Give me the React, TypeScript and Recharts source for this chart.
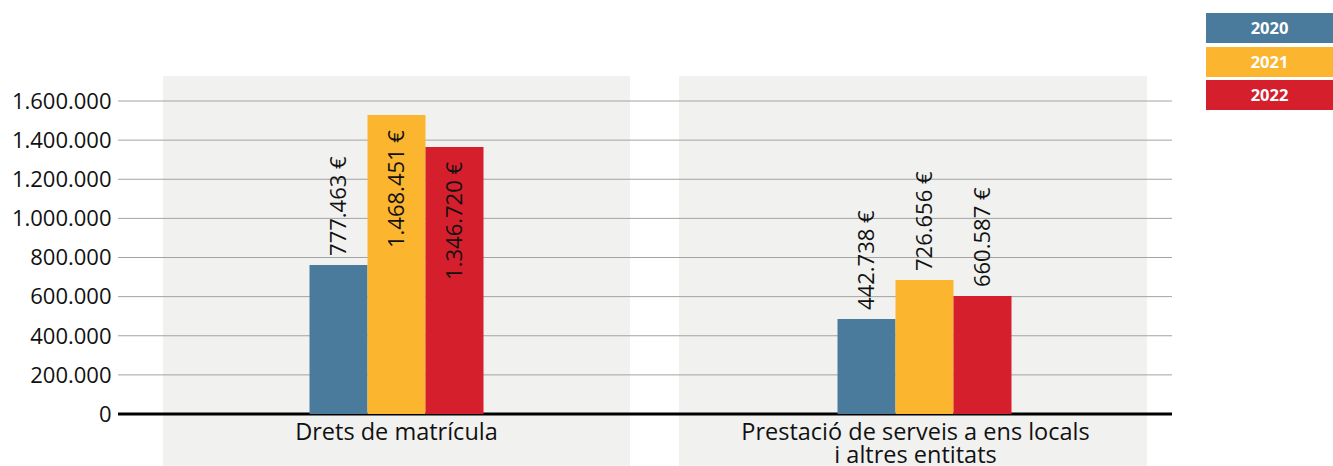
import { Bar, BarChart, CartesianGrid, LabelList, XAxis, YAxis } from 'recharts'

const categories = ['Drets de matrícula', 'Prestació de serveis a ens locals\ni altres entitats']
const years = ['2020', '2021', '2022']
const values2020 = [762000, 486000]
const values2021 = [1528000, 685000]
const values2022 = [1365000, 603000]
const labels2020 = ['777.463 €', '442.738 €']
const labels2021 = ['1.468.451 €', '726.656 €']
const labels2022 = ['1.346.720 €', '660.587 €']
const yTicks = [0, 200000, 400000, 600000, 800000, 1000000, 1200000, 1400000, 1600000]

const colors = ['#4a7b9c', '#fbb52f', '#d61f2c']
const font = '"Open Sans", "Noto Sans", sans-serif'

const chartData = categories.map((name, i) => ({
  name,
  v2020: values2020[i],
  v2021: values2021[i],
  v2022: values2022[i],
  l2020: labels2020[i],
  l2021: labels2021[i],
  l2022: labels2022[i],
}))

const fmt = (v: number) => v.toLocaleString('de-DE')

// big bars get the label inside, the rest above
function BarLabel(props: any) {
  const { x, y, width, value, index, dataKey } = props
  const raw = chartData[index]?.[dataKey.replace('l', 'v') as 'v2020'] ?? 0
  const cx = x + width / 2 + 8
  const inside = raw > 1000000
  const ty = inside ? y + 15 : y - 9
  return (
    <text
      x={cx}
      y={ty}
      transform={`rotate(-90 ${cx} ${ty})`}
      textAnchor={inside ? 'end' : 'start'}
      fontFamily={font}
      fontSize={22}
      fill="#111"
    >
      {value}
    </text>
  )
}

function CategoryTick(props: any) {
  const { x, y, payload, index } = props
  const lines = String(payload.value).split('\n')
  const tx = x - (index === 1 ? 9 : 0)
  return (
    <text x={tx} y={y + 26} textAnchor="middle" fontFamily={font} fontSize={23.5} fill="#111">
      {lines.map((line, i) => (
        <tspan key={i} x={tx} dy={i === 0 ? 0 : 23}>
          {line}
        </tspan>
      ))}
    </text>
  )
}

export default function App() {
  return (
    <div style={{ position: 'absolute', left: 0, top: 0, width: 1333, height: 466, background: '#fff' }}>
      <div style={{ position: 'absolute', left: 163, top: 76, width: 467, height: 390, background: '#f1f1f0' }} />
      <div style={{ position: 'absolute', left: 679, top: 76, width: 468, height: 390, background: '#f1f1f0' }} />
      <div style={{ position: 'absolute', left: 1206, top: 13, width: 127 }}>
        {years.map((yr, i) => (
          <div
            key={yr}
            style={{
              height: 30,
              marginBottom: 3.5,
              background: colors[i],
              color: '#fff',
              fontFamily: font,
              fontWeight: 700,
              fontSize: 16.5,
              lineHeight: '30px',
              textAlign: 'center',
            }}
          >
            {yr}
          </div>
        ))}
      </div>
      <div style={{ position: 'absolute', left: 0, top: 0 }}>
        <BarChart
          width={1333}
          height={466}
          data={chartData}
          margin={{ top: 101, right: 144.5, left: 0, bottom: 0 }}
          barGap={0}
          barSize={58}
        >
          <CartesianGrid
            x={118}
            width={1054}
            vertical={false}
            horizontalValues={yTicks.slice(1)}
            stroke="#a3a3a3"
            strokeWidth={1}
          />
          <XAxis
            dataKey="name"
            height={52}
            tickLine={false}
            axisLine={false}
            tickSize={0}
            tickMargin={0}
            interval={0}
            tick={<CategoryTick />}
          />
          <YAxis
            width={132.5}
            domain={[0, 1600000]}
            ticks={yTicks}
            tickFormatter={fmt}
            axisLine={false}
            tickLine={false}
            tickSize={0}
            tickMargin={21}
            tick={{ fontSize: 22, fill: '#111', fontFamily: font }}
          />
          {years.map((yr, i) => (
            <Bar key={yr} dataKey={`v${yr}`} fill={colors[i]} isAnimationActive={false}>
              <LabelList dataKey={`l${yr}`} content={<BarLabel dataKey={`l${yr}`} />} />
            </Bar>
          ))}
          <CartesianGrid
            x={118}
            width={1054}
            vertical={false}
            horizontalValues={[0]}
            stroke="#000"
            strokeWidth={3}
          />
        </BarChart>
      </div>
    </div>
  )
}
